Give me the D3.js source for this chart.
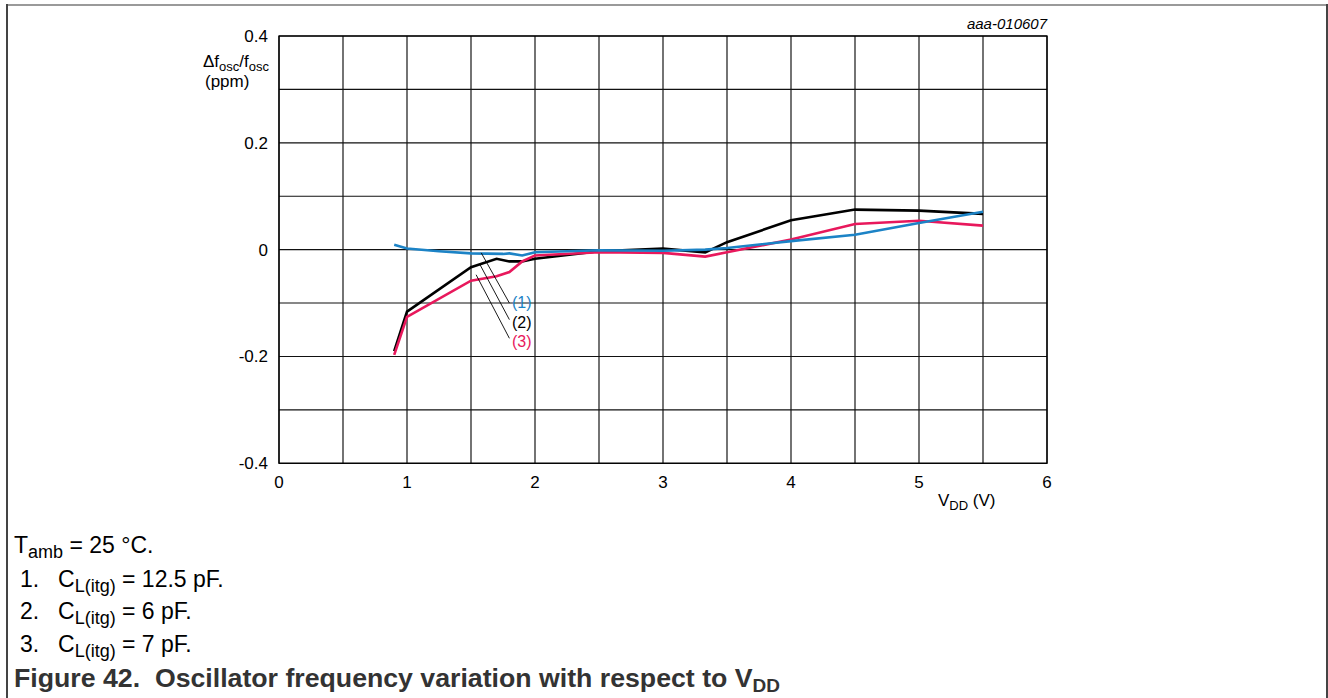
<!DOCTYPE html>
<html>
<head>
<meta charset="utf-8">
<script src="https://cdn.jsdelivr.net/npm/d3@7"></script>
<style>
  html, body { margin: 0; padding: 0; background: #fff; }
  svg { display: block; font-family: "Liberation Sans", Arial, sans-serif; }
  text { white-space: pre; }
</style>
</head>
<body>
<svg id="chart" width="1328" height="698"></svg>
<script>
// Supply voltage (V) and relative frequency deviation (ppm) per load capacitance
const vdd1 = [0.9, 1.0, 1.25, 1.5, 1.75, 1.8, 1.9, 2.0, 2.5, 3.0, 3.33, 3.5, 4.0, 4.5, 5.0, 5.5];
const dev1 = [0.009, 0.002, -0.003, -0.007, -0.008, -0.007, -0.011, -0.005, -0.001, -0.002, 0.0, 0.003, 0.016, 0.028, 0.05, 0.071];

const vdd2 = [0.9, 1.0, 1.5, 1.7, 1.8, 1.9, 2.0, 2.5, 3.0, 3.33, 3.5, 4.0, 4.5, 5.0, 5.5];
const dev2 = [-0.19, -0.116, -0.033, -0.017, -0.022, -0.022, -0.017, -0.003, 0.002, -0.005, 0.014, 0.055, 0.075, 0.073, 0.067];

const vdd3 = [0.9, 1.0, 1.5, 1.7, 1.8, 1.9, 2.0, 2.5, 3.0, 3.33, 3.5, 4.0, 4.5, 5.0, 5.5];
const dev3 = [-0.197, -0.126, -0.058, -0.05, -0.042, -0.022, -0.011, -0.005, -0.006, -0.013, -0.005, 0.019, 0.048, 0.054, 0.045];

const seriesNames = ["(1)", "(2)", "(3)"];
const seriesColors = ["#1c83c6", "#000000", "#e8185c"];

const xTicks = [0, 1, 2, 3, 4, 5, 6];
const yTicks = [0.4, 0.2, 0, -0.2, -0.4];
const yTickLabels = ["0.4", "0.2", "0", "-0.2", "-0.4"];

// Leader lines: start on the curve, end next to the label
const leaderFrom = [[1.58, -0.006], [1.57, -0.028], [1.54, -0.047]];
const leaderTo = [[1.80, -0.100], [1.80, -0.131], [1.80, -0.166]];
const labelAt = [[1.82, -0.098], [1.82, -0.135], [1.82, -0.171]];

const notes = [
  { lead: "", main: "T", sub: "amb", rest: " = 25 °C." },
  { lead: "1.", main: "C", sub: "L(itg)", rest: " = 12.5 pF." },
  { lead: "2.", main: "C", sub: "L(itg)", rest: " = 6 pF." },
  { lead: "3.", main: "C", sub: "L(itg)", rest: " = 7 pF." }
];

const svg = d3.select("#chart");

const x = d3.scaleLinear().domain([0, 6]).range([279, 1047]);
const y = d3.scaleLinear().domain([-0.4, 0.4]).range([463.3, 36]);

// Figure frame
svg.append("line").attr("x1", 7).attr("x2", 1328).attr("y1", 5).attr("y2", 5)
  .attr("stroke", "#9a9a9a").attr("stroke-width", 2);
svg.append("line").attr("x1", 7).attr("x2", 7).attr("y1", 4).attr("y2", 698)
  .attr("stroke", "#444").attr("stroke-width", 2);
svg.append("line").attr("x1", 1327).attr("x2", 1327).attr("y1", 4).attr("y2", 698)
  .attr("stroke", "#444").attr("stroke-width", 2);

// Grid
const grid = svg.append("g");
grid.selectAll("line.v").data(d3.range(0, 6.01, 0.5)).join("line")
  .attr("x1", d => x(d)).attr("x2", d => x(d))
  .attr("y1", y(0.4)).attr("y2", y(-0.4))
  .attr("stroke", "#000").attr("stroke-width", 1.1);
grid.selectAll("line.h").data(d3.range(-4, 5).map(i => i / 10)).join("line")
  .attr("x1", x(0)).attr("x2", x(6))
  .attr("y1", d => y(d)).attr("y2", d => y(d))
  .attr("stroke", "#111").attr("stroke-width", 1.1);
grid.append("rect")
  .attr("x", x(0)).attr("y", y(0.4))
  .attr("width", x(6) - x(0)).attr("height", y(-0.4) - y(0.4))
  .attr("fill", "none").attr("stroke", "#000").attr("stroke-width", 1.3);

// Axes labels
const tickFont = 17;
svg.append("g").selectAll("text").data(xTicks).join("text")
  .attr("x", d => x(d)).attr("y", 488)
  .attr("text-anchor", "middle").attr("font-size", tickFont).attr("fill", "#000")
  .text(d => d);
svg.append("g").selectAll("text").data(yTicks).join("text")
  .attr("x", 268).attr("y", d => y(d) + 6)
  .attr("text-anchor", "end").attr("font-size", tickFont).attr("fill", "#000")
  .text((d, i) => yTickLabels[i]);

// Y axis title
const yt = svg.append("text").attr("x", 203).attr("y", 67).attr("font-size", tickFont);
yt.append("tspan").text("Δf");
yt.append("tspan").attr("dy", 4).attr("font-size", 13).text("osc");
yt.append("tspan").attr("dy", -4).text("/f");
yt.append("tspan").attr("dy", 4).attr("font-size", 13).text("osc");
svg.append("text").attr("x", 205).attr("y", 87).attr("font-size", tickFont).text("(ppm)");

// X axis title
const xt = svg.append("text").attr("x", 938).attr("y", 506).attr("font-size", tickFont);
xt.append("tspan").text("V");
xt.append("tspan").attr("dy", 4).attr("font-size", 13).text("DD");
xt.append("tspan").attr("dy", -4).text(" (V)");

// Figure id
svg.append("text").attr("x", 1047).attr("y", 29)
  .attr("text-anchor", "end").attr("font-size", 15).attr("font-style", "italic")
  .text("aaa-010607");

// Curves
const line = d3.line().x(d => x(d[0])).y(d => y(d[1]));
const series = [
  { v: vdd2, d: dev2, c: seriesColors[1] },
  { v: vdd3, d: dev3, c: seriesColors[2] },
  { v: vdd1, d: dev1, c: seriesColors[0] }
];
svg.append("g").selectAll("path").data(series).join("path")
  .attr("d", s => line(s.v.map((v, i) => [v, s.d[i]])))
  .attr("fill", "none").attr("stroke", s => s.c)
  .attr("stroke-width", 2.6).attr("stroke-linejoin", "miter");

// Leader lines and series labels
svg.append("g").selectAll("line").data(leaderFrom).join("line")
  .attr("x1", d => x(d[0])).attr("y1", d => y(d[1]))
  .attr("x2", (d, i) => x(leaderTo[i][0])).attr("y2", (d, i) => y(leaderTo[i][1]))
  .attr("stroke", "#000").attr("stroke-width", 0.9);
svg.append("g").selectAll("text").data(labelAt).join("text")
  .attr("x", d => x(d[0])).attr("y", d => y(d[1]) + 6)
  .attr("font-size", 16).attr("fill", (d, i) => seriesColors[i])
  .text((d, i) => seriesNames[i]);

// Notes below the chart
const noteFont = 23;
const noteY = [553, 587, 619, 652];
notes.forEach((n, i) => {
  if (n.lead) {
    svg.append("text").attr("x", 20).attr("y", noteY[i]).attr("font-size", noteFont).text(n.lead);
  }
  const t = svg.append("text").attr("x", n.lead ? 58 : 14).attr("y", noteY[i]).attr("font-size", noteFont);
  t.append("tspan").text(n.main);
  t.append("tspan").attr("dy", 5).attr("font-size", 18).text(n.sub);
  t.append("tspan").attr("dy", -5).text(n.rest);
});

// Caption
const cap = svg.append("text").attr("x", 14).attr("y", 687)
  .attr("font-size", 26.7).attr("font-weight", "bold").attr("fill", "#333");
cap.append("tspan").text("Figure 42.  Oscillator frequency variation with respect to V");
cap.append("tspan").attr("dy", 5).attr("font-size", 19).text("DD");
</script>
</body>
</html>
